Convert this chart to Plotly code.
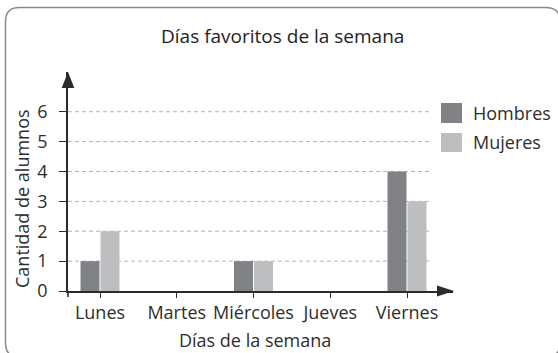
import plotly.graph_objects as go

# Data
dias = ["Lunes", "Martes", "Miércoles", "Jueves", "Viernes"]
hombres = [1, 0, 1, 0, 4]
mujeres = [2, 0, 1, 0, 3]
y_ticks = [0, 1, 2, 3, 4, 5, 6]

W, H = 558, 353
# plot area in pixels
L, R, T, B = 68, 453, 72, 291
PW, PH = R - L, B - T


def px(x):
    return (x - L) / PW


def py(y):
    return (B - y) / PH


AXIS = "#2b2b2b"
TEXT = "#2e2e2e"
FONT = "Open Sans"
FS = 18

fig = go.Figure()
fig.add_trace(go.Bar(x=dias, y=hombres, name="Hombres", marker_color="#808285",
                     marker_line_width=0))
fig.add_trace(go.Bar(x=dias, y=mujeres, name="Mujeres", marker_color="#bcbec0",
                     marker_line_width=0))

shapes = []
# dashed guide lines
for v in y_ticks[1:]:
    shapes.append(dict(type="line", xref="paper", yref="y", x0=0, x1=px(429), y0=v, y1=v,
                       line=dict(color="#b4b4b4", width=1, dash="4px,3px"), layer="below"))
# y-axis continues slightly below the origin
shapes.append(dict(type="line", xref="paper", yref="paper", x0=0, x1=0, y0=py(291), y1=py(297),
                   line=dict(color=AXIS, width=1.6)))
# arrow heads
shapes.append(dict(type="path", xref="paper", yref="paper",
                   path=f"M {px(68)} {py(72)} L {px(61.7)} {py(88)} L {px(74.3)} {py(88)} Z",
                   fillcolor=AXIS, line=dict(width=0)))
shapes.append(dict(type="path", xref="paper", yref="paper",
                   path=f"M {px(454)} {py(291)} L {px(437)} {py(285.5)} L {px(437)} {py(296.5)} Z",
                   fillcolor=AXIS, line=dict(width=0)))
# legend swatches
shapes.append(dict(type="rect", xref="paper", yref="paper", x0=px(441), x1=px(462),
                   y0=py(103), y1=py(123), fillcolor="#808285", line=dict(width=0)))
shapes.append(dict(type="rect", xref="paper", yref="paper", x0=px(441), x1=px(462),
                   y0=py(133), y1=py(152), fillcolor="#bcbec0", line=dict(width=0)))
# rounded outer frame
fx0, fy0, fx1, fy1, r = 5.5, 7.5, 560, 357, 14
frame = (f"M {px(fx0 + r)} {py(fy0)} L {px(fx1 - r)} {py(fy0)} "
         f"Q {px(fx1)} {py(fy0)} {px(fx1)} {py(fy0 + r)} "
         f"L {px(fx1)} {py(fy1 - r)} Q {px(fx1)} {py(fy1)} {px(fx1 - r)} {py(fy1)} "
         f"L {px(fx0 + r)} {py(fy1)} Q {px(fx0)} {py(fy1)} {px(fx0)} {py(fy1 - r)} "
         f"L {px(fx0)} {py(fy0 + r)} Q {px(fx0)} {py(fy0)} {px(fx0 + r)} {py(fy0)} Z")
shapes.append(dict(type="path", xref="paper", yref="paper", path=frame,
                   line=dict(color="#8a8a8a", width=1.5)))

annotations = [
    dict(text="Días favoritos de la semana", xref="paper", yref="paper",
         x=px(282), y=py(36), xanchor="center", yanchor="middle", showarrow=False,
         font=dict(family=FONT, size=19, color="#1e1e1e")),
    dict(text="Cantidad de alumnos", xref="paper", yref="paper", textangle=-90,
         x=px(22), y=py(199), xanchor="center", yanchor="middle", showarrow=False,
         font=dict(family=FONT, size=FS, color=TEXT)),
    dict(text="Días de la semana", xref="paper", yref="paper",
         x=px(255), y=py(340), xanchor="center", yanchor="middle", showarrow=False,
         font=dict(family=FONT, size=FS, color=TEXT)),
    dict(text="Hombres", xref="paper", yref="paper", x=px(471), y=py(113),
         xanchor="left", yanchor="middle", showarrow=False,
         font=dict(family=FONT, size=FS, color=TEXT)),
    dict(text="Mujeres", xref="paper", yref="paper", x=px(471), y=py(142),
         xanchor="left", yanchor="middle", showarrow=False,
         font=dict(family=FONT, size=FS, color=TEXT)),
]

fig.update_layout(
    width=W, height=H,
    margin=dict(l=L, r=W - R, t=T, b=H - B, pad=0),
    paper_bgcolor="white", plot_bgcolor="white",
    barmode="group", bargap=0.479, bargroupgap=0.05,
    showlegend=False,
    shapes=shapes, annotations=annotations,
    font=dict(family=FONT, color=TEXT, size=FS),
)
fig.update_xaxes(
    type="category", range=[-(100 - L) / 76.75, -(100 - L) / 76.75 + PW / 76.75],
    showline=True, linecolor=AXIS, linewidth=1.6, showgrid=False, zeroline=False,
    ticks="outside", ticklen=5, tickwidth=1.4, tickcolor=AXIS,
    tickfont=dict(family=FONT, size=FS, color=TEXT),
)
fig.update_yaxes(
    range=[0, PH / 29.88], tickvals=y_ticks,
    showline=True, linecolor=AXIS, linewidth=1.6, showgrid=False, zeroline=False,
    ticks="outside", ticklen=7, tickwidth=1.4, tickcolor=AXIS, ticklabelstandoff=8,
    tickfont=dict(family=FONT, size=FS, color=TEXT),
)

fig.write_html("out.html")
